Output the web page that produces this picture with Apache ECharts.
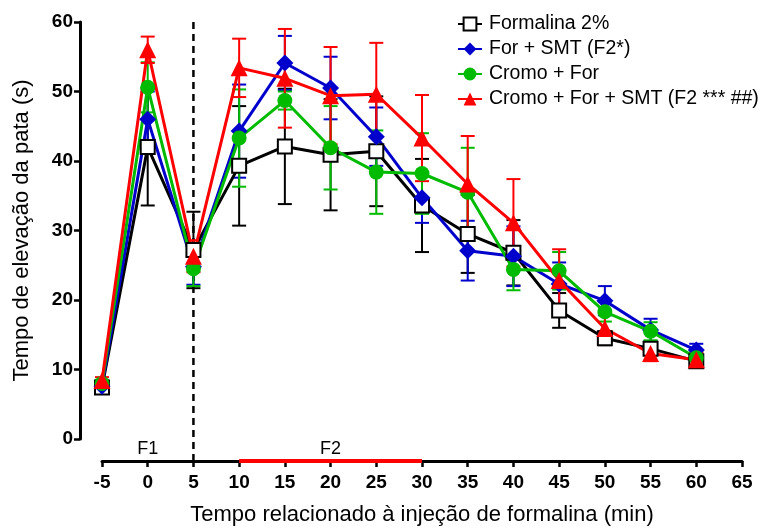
<!DOCTYPE html>
<html><head><meta charset="utf-8">
<script src="https://cdn.jsdelivr.net/npm/echarts@6/dist/echarts.min.js"></script>
<style>html,body{margin:0;padding:0;background:#fff}#c{width:765px;height:531px}</style>
</head><body><div id="c"></div>
<script>
var times = [-5, 0, 5, 10, 15, 20, 25, 30, 35, 40, 45, 50, 55, 60];
var xTicks = [-5, 0, 5, 10, 15, 20, 25, 30, 35, 40, 45, 50, 55, 60, 65];
var yTicks = [0, 10, 20, 30, 40, 50, 60];
var seriesNames = ['Formalina 2%', 'For + SMT (F2*)', 'Cromo + For', 'Cromo + For + SMT (F2 *** ##)'];
var formalina    = [7.4, 42.0, 27.2, 39.3, 42.1, 40.9, 41.4, 33.6, 29.5, 26.8, 18.5, 14.5, 13.0, 11.2];
var formalinaErr = [0.5, 8.4, 5.5, 8.6, 8.3, 8.0, 7.9, 6.7, 5.6, 4.7, 2.5, 1.0, 0.8, 0.8];
var forSmt       = [7.6, 46.0, 24.8, 44.3, 54.1, 50.5, 43.5, 34.7, 27.1, 26.3, 22.3, 19.9, 15.7, 12.8];
var forSmtErr    = [0.5, 4.0, 2.6, 6.7, 3.9, 4.5, 4.2, 3.6, 4.3, 4.3, 3.1, 2.1, 1.6, 0.9];
var cromoFor     = [8.0, 50.6, 24.5, 43.3, 48.7, 41.9, 38.4, 38.2, 35.5, 24.4, 24.2, 18.3, 15.5, 11.7];
var cromoForErr  = [0.5, 3.6, 2.5, 7.0, 1.3, 6.0, 6.0, 5.8, 6.4, 3.0, 2.7, 1.4, 1.3, 0.8];
var cromoForSmt    = [8.4, 56.0, 26.3, 53.4, 51.9, 49.4, 49.6, 43.3, 36.7, 31.1, 22.8, 15.9, 12.3, 11.4];
var cromoForSmtErr = [0.5, 1.9, 2.3, 4.2, 7.1, 7.0, 7.4, 6.2, 6.9, 6.3, 4.5, 2.2, 1.1, 1.0];
var phaseLabels = [{text: 'F1', x: 0}, {text: 'F2', x: 20}];
var dashX = 5;
var f2Range = [10, 30];

var colors = ['#000000', '#0000cc', '#00bb00', '#ff0000'];
var symbols = ['emptyRect', 'diamond', 'circle', 'triangle'];
var symbolSizes = [14, 17, 15, 17];
var values = [formalina, forSmt, cromoFor, cromoForSmt];
var errs = [formalinaErr, forSmtErr, cromoForErr, cromoForSmtErr];
var FONT = 'Liberation Sans, Arial, sans-serif';

var chart = echarts.init(document.getElementById('c'), null, {renderer: 'canvas'});
var series = [];
for (var k = 0; k < 4; k++) {
  (function (k) {
    series.push({
      name: seriesNames[k] + ' err',
      type: 'custom',
      clip: false,
      z: 2,
      data: times.map(function (t, i) { return [t, values[k][i] - errs[k][i], values[k][i] + errs[k][i]]; }),
      renderItem: function (params, api) {
        var x = api.value(0);
        var lo = api.coord([x, api.value(1)]);
        var hi = api.coord([x, api.value(2)]);
        var h = 7;
        var st = {stroke: colors[k], lineWidth: 2};
        return {type: 'group', children: [
          {type: 'line', shape: {x1: lo[0], y1: lo[1], x2: hi[0], y2: hi[1]}, style: st},
          {type: 'line', shape: {x1: hi[0] - h, y1: hi[1], x2: hi[0] + h, y2: hi[1]}, style: st},
          {type: 'line', shape: {x1: lo[0] - h, y1: lo[1], x2: lo[0] + h, y2: lo[1]}, style: st}
        ]};
      }
    });
    series.push({
      name: seriesNames[k],
      type: 'line',
      z: 2,
      data: times.map(function (t, i) { return [t, values[k][i]]; }),
      symbol: symbols[k],
      symbolSize: symbolSizes[k],
      showAllSymbol: true,
      lineStyle: {color: colors[k], width: 3},
      itemStyle: {color: colors[k], borderColor: colors[k], borderWidth: k === 0 ? 2 : 0}
    });
  })(k);
}

chart.setOption({
  animation: false,
  backgroundColor: '#fff',
  grid: {left: 102, right: 23, top: 22, bottom: 90},
  legend: {
    orient: 'vertical', left: 452, top: 9,
    data: seriesNames,
    itemWidth: 24, itemHeight: 16, itemGap: 5,
    textStyle: {fontFamily: FONT, fontSize: 19.5, color: '#000', lineHeight: 20, padding: [0, 0, 0, 2]}
  },
  xAxis: {
    type: 'value', min: -5, max: 65, interval: 5, offset: 22,
    name: 'Tempo relacionado à injeção de formalina (min)',
    nameLocation: 'middle', nameGap: 43,
    nameTextStyle: {fontFamily: FONT, fontSize: 22, color: '#000'},
    axisLine: {show: true, onZero: false, lineStyle: {color: '#000', width: 3}},
    axisTick: {show: true, length: 6, lineStyle: {color: '#000', width: 2.5}},
    axisLabel: {fontFamily: FONT, fontSize: 19, fontWeight: 'bold', color: '#000', margin: 12,
      formatter: function (v) { return xTicks.indexOf(v) >= 0 ? String(v) : ''; }},
    splitLine: {show: false}
  },
  yAxis: {
    type: 'value', min: 0, max: 60, interval: 10, offset: 22,
    name: 'Tempo de elevação da pata (s)',
    nameLocation: 'middle', nameGap: 47,
    nameTextStyle: {fontFamily: FONT, fontSize: 22, color: '#000'},
    axisLine: {show: true, onZero: false, lineStyle: {color: '#000', width: 3}},
    axisTick: {show: true, length: 6, lineStyle: {color: '#000', width: 2.5}},
    axisLabel: {fontFamily: FONT, fontSize: 19, fontWeight: 'bold', color: '#000', margin: 7,
      formatter: function (v) { return yTicks.indexOf(v) >= 0 ? String(v) : ''; }},
    splitLine: {show: false}
  },
  series: series
});

function addGraphics() {
  var axisY = chart.convertToPixel({yAxisIndex: 0}, 0) + 22;
  var topY = chart.convertToPixel({yAxisIndex: 0}, 60);
  var dx = chart.convertToPixel({xAxisIndex: 0}, dashX);
  var r0 = chart.convertToPixel({xAxisIndex: 0}, f2Range[0]);
  var r1 = chart.convertToPixel({xAxisIndex: 0}, f2Range[1]);
  var g = [
    {type: 'line', z: 1, shape: {x1: dx, y1: topY, x2: dx, y2: axisY}, style: {stroke: '#000', lineWidth: 2.5, lineDash: [7, 5]}},
    {type: 'line', z: 10, shape: {x1: r0, y1: axisY, x2: r1, y2: axisY}, style: {stroke: '#ff0000', lineWidth: 4}}
  ];
  phaseLabels.forEach(function (p) {
    g.push({type: 'text', z: 10, x: chart.convertToPixel({xAxisIndex: 0}, p.x), y: axisY - 3,
      style: {text: p.text, fontFamily: FONT, fontSize: 18, fill: '#000', align: 'center', verticalAlign: 'bottom'}});
  });
  chart.setOption({graphic: g});
}
addGraphics();
</script>
</body></html>
